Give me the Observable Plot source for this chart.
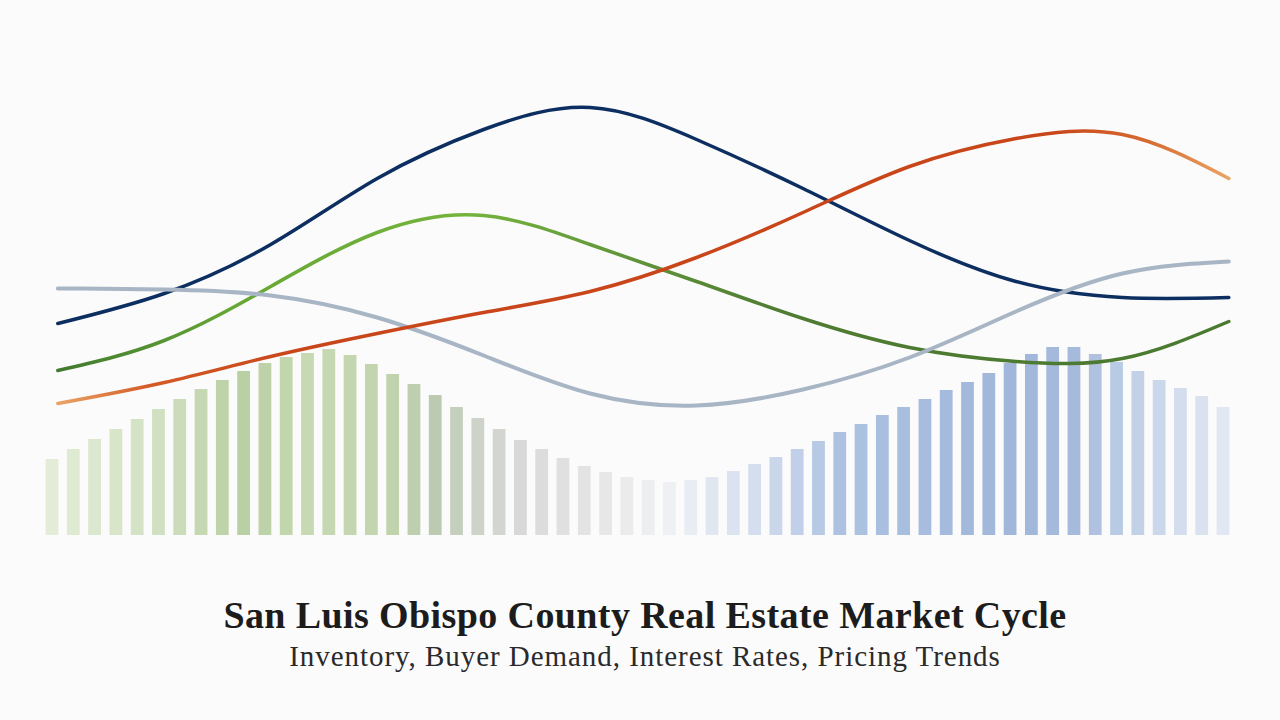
<!DOCTYPE html>
<html>
<head>
<meta charset="utf-8">
<script src="https://cdn.jsdelivr.net/npm/d3@7"></script>
<script src="https://cdn.jsdelivr.net/npm/@observablehq/plot@0.6"></script>
<style>
  html, body { margin: 0; padding: 0; background: #fbfbfb; }
  #wrap { width: 1280px; height: 720px; position: relative; overflow: hidden; }
  #chart svg { display: block; background: transparent; }
  .title { font-family: "Liberation Serif", serif; font-weight: bold; font-size: 38px; letter-spacing: 0.4px; line-height: 1; color: #1c1c1c; text-align: center; margin-top: 36px; padding-left: 10px; white-space: nowrap; }
  .subtitle { font-family: "Liberation Serif", serif; font-size: 29px; letter-spacing: 0.95px; line-height: 1; color: #2a2a2a; text-align: center; margin-top: 8px; padding-left: 10px; white-space: nowrap; }
</style>
</head>
<body>
<div id="wrap">
  <div id="chart"></div>
  <div class="title">San Luis Obispo County Real Estate Market Cycle</div>
  <div class="subtitle">Inventory, Buyer Demand, Interest Rates, Pricing Trends</div>
</div>
<script>
// Inventory bars (index units, 56 periods)
const inventory = [76, 86, 96, 106, 116, 126, 136, 146, 155, 164, 172, 178, 182, 186, 180, 171,
  161, 151, 140, 128, 117, 106, 95, 86, 77, 69, 63, 58, 55, 53, 55, 58, 64, 71, 78, 86, 94,
  103, 111, 120, 128, 136, 145, 153, 162, 172, 181, 188, 188, 181, 173, 164, 155, 147, 139, 128];

// Line sample positions (same period units as bars)
const periods = [0.25, 5.25, 10.25, 15.25, 20.25, 25.25, 30.25, 35.25, 40.25, 45.25, 50.25, 55.25];
const buyerDemand   = [212, 242, 291, 357, 406, 428, 396, 347, 295, 254, 238, 238];
const interestRates = [132, 153, 179, 202, 223, 244, 278, 323, 369, 397, 401, 357];
const pricingTrends = [165, 195, 249, 303, 320, 291, 254, 217, 188, 174, 177, 214];
const supplyIndex   = [247, 246, 240, 218, 180, 142, 130, 146, 178, 224, 262, 274];

const bars = inventory.map((v, i) => ({i, v}));
const toRows = (vals) => vals.map((v, k) => ({p: periods[k], v}));

const plot = Plot.plot({
  width: 1280,
  height: 560,
  marginLeft: 52,
  marginRight: 57,
  marginTop: 85,
  marginBottom: 25,
  style: {background: "transparent"},
  x: {domain: [0, 55], axis: null},
  y: {domain: [0, 450], axis: null},
  color: {
    type: "linear",
    domain: [0, 5, 9, 12, 16, 18, 20, 22, 27, 29, 33, 37, 45, 48, 51, 55],
    range: ["#e3ecd7", "#d0e0c0", "#b9cfa4", "#c6d9b3", "#c0d3ad", "#bccab1", "#cdd3c8", "#d8d8d8",
            "#ebebeb", "#eef0f4", "#d4deee", "#adc2e1", "#a0b6da", "#a6bbdc", "#c3d1e8", "#e2e8f3"],
    interpolate: "rgb"
  },
  marks: [
    Plot.rectY(bars, {x1: d => d.i - 0.3, x2: d => d.i + 0.3, y: "v", fill: "i"}),
    Plot.line(toRows(buyerDemand), {x: "p", y: "v", stroke: "#0c2e60", strokeWidth: 3.5, curve: "natural", strokeLinecap: "round"}),
    Plot.line(toRows(pricingTrends), {x: "p", y: "v", stroke: "url(#gGreen)", strokeWidth: 3.5, curve: "natural", strokeLinecap: "round"}),
    Plot.line(toRows(supplyIndex), {x: "p", y: "v", stroke: "#a8b5c5", strokeWidth: 4, curve: "natural", strokeLinecap: "round"}),
    Plot.line(toRows(interestRates), {x: "p", y: "v", stroke: "url(#gOrange)", strokeWidth: 3.5, curve: "natural", strokeLinecap: "round"})
  ]
});

const svg = d3.select(plot);
const defs = svg.insert("defs", ":first-child");
function grad(id, stops) {
  const g = defs.append("linearGradient").attr("id", id).attr("x1", "0").attr("x2", "1").attr("y1", "0").attr("y2", "0");
  stops.forEach(([o, c]) => g.append("stop").attr("offset", o).attr("stop-color", c));
}
grad("gOrange", [[0, "#e9a467"], [0.08, "#d35a25"], [0.2, "#c9461a"], [0.85, "#c9461a"], [0.93, "#d66a30"], [1, "#e9a467"]]);
grad("gGreen", [[0, "#417a2f"], [0.15, "#66a735"], [0.35, "#74b43d"], [0.5, "#5f923a"], [0.62, "#4f7b32"], [1, "#4a7a30"]]);

document.getElementById("chart").appendChild(plot);
</script>
</body>
</html>
